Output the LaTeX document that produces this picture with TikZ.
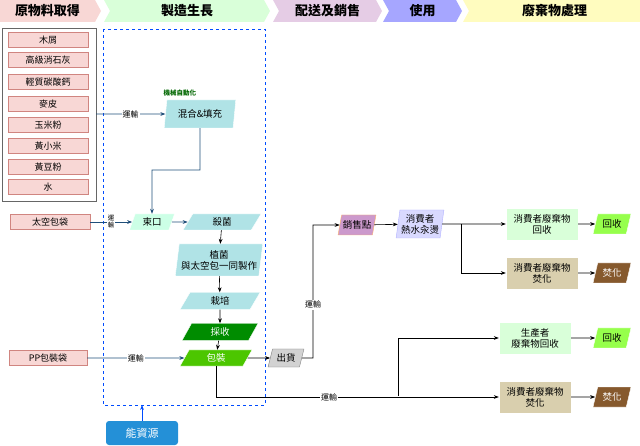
\documentclass[tikz,border=0pt]{standalone}
\usepackage{fontspec}
\setmainfont{Noto Sans CJK TC}
\usetikzlibrary{shapes.geometric, positioning, arrows.meta}
\definecolor{pinkf}{HTML}{F8D7D5}
\definecolor{pinkd}{HTML}{D08580}
\definecolor{teal}{HTML}{B0E3E6}
\definecolor{mint}{HTML}{CCFFE6}
\definecolor{navy}{HTML}{1F4E79}
\definecolor{tan}{HTML}{D9CFAE}
\tikzset{
  mat/.style={draw=pinkd, fill=pinkf, minimum width=80pt, minimum height=15pt, inner sep=0pt, font=\fontsize{9}{10}\selectfont},
  para/.style={trapezium, trapezium left angle=72, trapezium right angle=108, trapezium stretches=true, draw=white, inner sep=1pt, align=center, font=\fontsize{9.5}{11}\selectfont},
  box/.style={draw=white, minimum width=72pt, minimum height=32pt, inner sep=1pt, align=center, font=\fontsize{9.5}{11}\selectfont},
  lab/.style={fill=white, inner sep=1pt, font=\fontsize{8}{9}\selectfont},
  arr/.style={-{Stealth[length=5pt]}, semithick},
  barr/.style={arr, draw=navy},
  head/.style={font=\fontsize{13}{14}\selectfont\bfseries}
}
\newcommand{\chev}[5]{% x1 x2 fill line text
  \fill[#3] (#1,0) -- (#2-6,0) -- (#2,11) -- (#2-6,22) -- (#1,22) -- (#1+6,11) -- cycle;
  \draw[#4, line width=1pt] (#1,0) -- (#2-6,0);
  \node[head] at ({(#1+#2)/2},11) {#5};}
\begin{document}
\begin{tikzpicture}[x=1pt, y=-1pt]
\useasboundingbox (0,0) rectangle (640,446);
% header
\chev{-6}{101}{pinkf}{red!60}{原物料取得}
\chev{104}{270}{green!15}{green!50!black!60}{製造生長}
\chev{273}{382}{violet!20}{violet!60}{配送及銷售}
\chev{383}{462}{blue!35}{blue!80}{使用}
\chev{463}{646}{yellow!25}{yellow!70!orange}{廢棄物處理}
% frames
\draw[gray!80!black] (2,28) rectangle (96,201);
\draw[blue!70!cyan, dashed, semithick] (103,29) rectangle (265,405);
% materials
\foreach \t/\y in {木屑/40, 高級消石灰/60, 輕質碳酸鈣/82, 麥皮/104, 玉米粉/125, 黃小米/146, 黃豆粉/167, 水/187}
  \node[mat] at (48,\y) {\t};
\coordinate (matout) at (96,114);
% manufacturing
\node[para, fill=teal, minimum width=72pt, minimum height=28pt, trapezium left angle=80, trapezium right angle=100] (mix) at (200,114) {混合\&填充};
\node[font=\fontsize{6.5}{7}\selectfont\bfseries, text=green!40!black, above=0pt of mix.north west, xshift=-6pt] {機械自動化};
\node[mat] (bag) at (50,222) {太空包袋};
\node[para, fill=mint, minimum width=45pt, minimum height=16pt] (tie) at (152,222) {束口};
\node[para, fill=teal, minimum width=78pt, minimum height=16pt] (ster) at (222,222) {殺菌};
\node[para, fill=teal, minimum width=88pt, minimum height=32pt, trapezium left angle=80, trapezium right angle=100] (inoc) at (219,260) {植菌\\與太空包一同製作};
\node[para, fill=teal, minimum width=80pt, minimum height=17pt] (grow) at (220,301) {栽培};
\node[para, fill=green!55!black, text=white, minimum width=76pt, minimum height=17pt] (harv) at (220,332) {採收};
\node[para, fill=green!50!olive!90!lime, text=white, minimum width=72pt, minimum height=16pt] (pack) at (216,358) {包裝};
\node[mat, minimum width=78pt] (pp) at (48,358) {PP包裝袋};
\node[para, fill=gray!35, draw=gray, minimum width=36pt, minimum height=18pt] (ship) at (286,358) {出貨};
\node[draw=none, fill=cyan!70!blue!90, rounded corners=3pt, text=white, minimum width=72pt, minimum height=24pt, font=\fontsize{11}{12}\selectfont] (energy) at (142,433) {能資源};
% distribution / use
\node[para, fill=violet!40, draw=orange!60, minimum width=38pt, minimum height=20pt] (shop) at (357,225) {銷售點};
\node[para, fill=blue!15, draw=blue!30, minimum width=48pt, minimum height=28pt, trapezium left angle=80, trapezium right angle=100] (use) at (420,224) {消費者\\熱水汆燙};
% waste
\node[box, fill=green!15] (crec) at (542,224) {消費者廢棄物\\回收};
\node[box, fill=tan] (cinc) at (542,273) {消費者廢棄物\\焚化};
\node[box, fill=green!15] (prec) at (535,338) {生產者\\廢棄物回收};
\node[box, fill=tan] (pinc) at (535,397) {消費者廢棄物\\焚化};
\foreach \n/\y in {r1/224, r2/338} \node[para, fill=green!45!lime!70, minimum width=38pt, minimum height=20pt] (\n) at (612,\y) {回收};
\foreach \n/\y in {i1/273, i2/397} \node[para, fill=brown!70!black, text=white, minimum width=38pt, minimum height=20pt] (\n) at (612,\y) {焚化};
% connectors
\draw[barr] (matout) -- node[lab]{運輸} (mix);
\draw[barr] (mix.south) |- (152,170) -- (tie.north);
\draw[barr] (bag) -- node[lab, align=center, font=\fontsize{6.5}{7}\selectfont]{運\\輸} (tie);
\draw[barr] (tie) -- (ster);
\draw[barr] (pp) -- node[lab]{運輸} (pack);
\draw[arr] (ster) -- (inoc);
\draw[arr] (inoc) -- (grow);
\draw[arr] (grow) -- (harv);
\draw[arr] (harv) -- (pack);
\draw[arr] (pack) -- (ship);
\draw[arr] (ship.east) -| node[lab, pos=0.7]{運輸} (313,225) -- (shop);
\draw[arr] (shop) -- (use);
\draw[arr] (use) -- (crec);
\draw[arr] (461,224) |- (cinc);
\draw[arr] (pack.south) |- node[lab, pos=0.7]{運輸} (pinc);
\draw[arr] (398,396) |- (prec);
\draw[arr] (crec) -- (r1);
\draw[arr] (cinc) -- (i1);
\draw[arr] (prec) -- (r2);
\draw[arr] (pinc) -- (i2);
\draw[-{Stealth[length=5pt]}, semithick, blue!70!cyan] (energy) -- (142,405);
\end{tikzpicture}
\end{document}
